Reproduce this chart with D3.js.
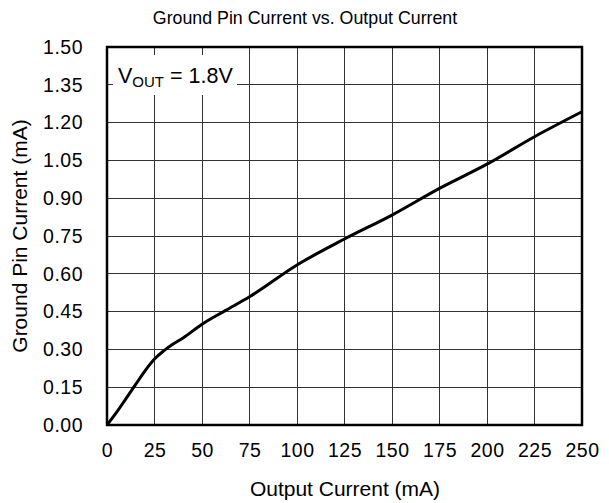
<!DOCTYPE html>
<html><head><meta charset="utf-8">
<script src="https://cdn.jsdelivr.net/npm/d3@7"></script>
<style>body{margin:0;background:#fff;} text{font-family:"Liberation Sans",Arial,sans-serif;fill:#000;}</style>
</head><body>
<svg id="c" width="609" height="503"></svg>
<script>
const xTicks = [0,25,50,75,100,125,150,175,200,225,250];
const yTicks = [0,0.15,0.30,0.45,0.60,0.75,0.90,1.05,1.20,1.35,1.50];
const outputCurrent = [0,5,10,15,20,25,30,35,40,50,62.5,75,100,125,150,175,200,225,250];
const groundCurrent = [0,0.05,0.105,0.16,0.215,0.262,0.295,0.322,0.345,0.40,0.455,0.509,0.635,0.738,0.833,0.939,1.035,1.144,1.243];

const svg = d3.select("#c");
const L=107,R=582,T=47,B=425;
const x = d3.scaleLinear().domain([0,250]).range([L,R]);
const y = d3.scaleLinear().domain([0,1.5]).range([B,T]);
const FONT = "Liberation Sans, Arial, sans-serif";

// grid
const g = svg.append("g").attr("shape-rendering","crispEdges");
g.selectAll(".vx").data(xTicks).enter().append("line")
 .attr("x1",d=>x(d)).attr("x2",d=>x(d)).attr("y1",T).attr("y2",B)
 .attr("stroke","#333").attr("stroke-width",1);
g.selectAll(".hy").data(yTicks).enter().append("line")
 .attr("y1",d=>y(d)).attr("y2",d=>y(d)).attr("x1",L).attr("x2",R)
 .attr("stroke","#333").attr("stroke-width",1);

// label box
svg.append("rect").attr("x",113).attr("y",55).attr("width",124).attr("height",40).attr("fill","#fff");
const lbl = svg.append("text").attr("x",118).attr("y",83).attr("font-size",21.5);
lbl.append("tspan").text("V");
lbl.append("tspan").attr("font-size",15).attr("dy",4).text("OUT");
lbl.append("tspan").attr("dy",-4).text(" = 1.8V");

// curve
const line = d3.line().x((d,i)=>x(outputCurrent[i])).y(d=>y(d)).curve(d3.curveMonotoneX);
svg.append("path").datum(groundCurrent).attr("d",line)
 .attr("fill","none").attr("stroke","#000").attr("stroke-width",3).attr("stroke-linejoin","round");

// frame
svg.append("rect").attr("x",L).attr("y",T).attr("width",R-L).attr("height",B-T)
 .attr("fill","none").attr("stroke","#000").attr("stroke-width",2.5);

// axes
const xa = svg.append("g").attr("transform",`translate(0,${B})`)
 .call(d3.axisBottom(x).tickValues(xTicks).tickSize(0).tickPadding(18).tickFormat(d3.format("d")));
xa.select(".domain").remove();
xa.selectAll("text").attr("font-size",19.5).attr("font-family",FONT).attr("letter-spacing",0.5);
const ya = svg.append("g").attr("transform",`translate(${L},0)`)
 .call(d3.axisLeft(y).tickValues(yTicks).tickSize(0).tickPadding(24).tickFormat(d3.format(".2f")));
ya.select(".domain").remove();
ya.selectAll("text").attr("font-size",19.5).attr("font-family",FONT).attr("letter-spacing",0.5);

// titles
svg.append("text").attr("x",305).attr("y",23.5).attr("text-anchor","middle").attr("font-size",17.8).text("Ground Pin Current vs. Output Current");
svg.append("text").attr("x",345).attr("y",496).attr("text-anchor","middle").attr("font-size",21).text("Output Current (mA)");
svg.append("text").attr("transform","translate(27,236) rotate(-90)").attr("text-anchor","middle").attr("font-size",21).text("Ground Pin Current (mA)");
</script>
</body></html>
